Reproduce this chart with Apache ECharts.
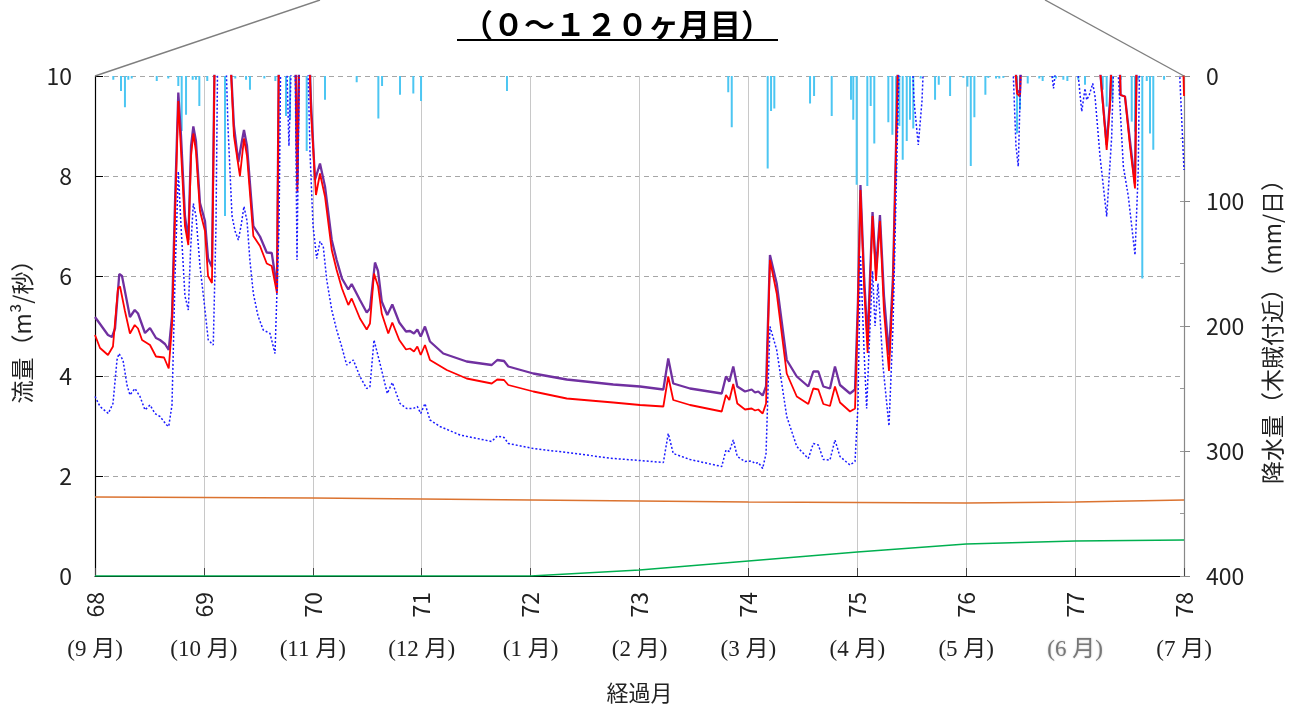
<!DOCTYPE html>
<html>
<head>
<meta charset="utf-8">
<script src="https://cdn.jsdelivr.net/npm/echarts@6/dist/echarts.min.js"></script>
<style>
  html, body { margin: 0; padding: 0; background: #ffffff; }
  #chart { width: 1300px; height: 711px; }
</style>
</head>
<body>
<div id="chart"></div>
<script>
// ---- elapsed-month axis ----
const monthMin = 68;
const monthMax = 78;
const monthNames = ['(9 月)', '(10 月)', '(11 月)', '(12 月)', '(1 月)', '(2 月)',
                    '(3 月)', '(4 月)', '(5 月)', '(6 月)', '(7 月)'];

// ---- discharge (m3/s), [elapsed month, value] ----
const flowPurple = [
  [68.000,5.18],[68.119,4.82],[68.156,4.78],[68.184,4.95],[68.223,6.04],[68.248,6.00],[68.321,5.18],
  [68.365,5.32],[68.395,5.25],[68.459,4.86],[68.505,4.96],[68.560,4.76],[68.597,4.72],[68.643,4.64],
  [68.677,4.52],[68.707,5.20],[68.735,7.50],[68.765,9.67],[68.790,8.80],[68.826,7.20],[68.857,6.72],
  [68.882,8.60],[68.903,8.99],[68.927,8.70],[68.964,7.46],[69.010,7.10],[69.038,6.35],[69.074,6.18],
  [69.102,11],[69.212,12],[69.240,10.5],[69.276,9.00],[69.316,8.28],[69.341,8.60],[69.368,8.92],
  [69.396,8.60],[69.454,7.00],[69.515,6.79],[69.577,6.47],[69.623,6.46],[69.671,5.76],[69.694,12],
  [69.837,11],[69.858,7.86],[69.878,11],[69.947,12],[69.983,9.50],[70.020,7.92],[70.066,8.25],
  [70.112,7.79],[70.174,6.72],[70.219,6.32],[70.268,5.95],[70.326,5.73],[70.357,5.84],[70.433,5.52],
  [70.495,5.27],[70.525,5.35],[70.571,6.27],[70.599,6.10],[70.633,5.49],[70.684,5.22],[70.730,5.43],
  [70.794,5.07],[70.856,4.89],[70.893,4.90],[70.929,4.85],[70.960,4.93],[70.991,4.79],[71.030,4.99],
  [71.076,4.69],[71.198,4.45],[71.413,4.29],[71.643,4.22],[71.694,4.32],[71.756,4.30],[71.795,4.19],
  [72.025,4.05],[72.332,3.93],[72.759,3.83],[73.005,3.79],[73.219,3.73],[73.264,4.35],[73.310,3.85],
  [73.464,3.75],[73.755,3.65],[73.794,3.99],[73.825,3.89],[73.861,4.19],[73.898,3.79],[73.969,3.69],
  [74.030,3.73],[74.061,3.67],[74.091,3.69],[74.131,3.61],[74.162,3.79],[74.198,6.42],[74.260,5.85],
  [74.352,4.32],[74.444,3.99],[74.550,3.79],[74.596,4.09],[74.642,4.09],[74.688,3.79],[74.749,3.75],
  [74.795,4.19],[74.841,3.82],[74.933,3.65],[74.979,3.73],[75.006,5.50],[75.029,7.82],[75.062,6.00],
  [75.095,4.70],[75.117,6.00],[75.140,7.28],[75.172,6.12],[75.208,7.22],[75.245,5.60],[75.291,4.42],
  [75.328,6.00],[75.365,9.50],[75.392,12],[76.402,12],[76.448,10.3],[76.467,9.72],[76.494,9.65],
  [76.512,11],[77.183,12],[77.222,10.3],[77.290,8.62],[77.320,9.50],[77.348,11],[77.394,12],
  [77.417,9.62],[77.458,9.59],[77.504,8.70],[77.550,7.85],[77.569,11],[77.963,12],[78.000,10.3]
];

const flowRed = [
  [68.000,4.82],[68.046,4.56],[68.119,4.42],[68.165,4.59],[68.193,5.30],[68.211,5.75],[68.230,5.79],
  [68.275,5.30],[68.321,4.85],[68.365,5.02],[68.395,4.95],[68.432,4.72],[68.505,4.62],[68.560,4.39],
  [68.634,4.37],[68.677,4.15],[68.707,5.00],[68.735,7.20],[68.765,9.50],[68.790,8.50],[68.826,7.00],
  [68.857,6.62],[68.882,8.40],[68.903,8.85],[68.927,8.50],[68.964,7.30],[69.010,6.90],[69.038,6.00],
  [69.074,5.86],[69.102,11],[69.212,12],[69.240,10.5],[69.276,8.80],[69.331,8.00],[69.368,8.75],
  [69.396,8.40],[69.454,6.80],[69.515,6.60],[69.577,6.25],[69.623,6.20],[69.671,5.66],[69.694,12],
  [69.837,11],[69.858,7.69],[69.878,11],[69.947,12],[69.983,9.30],[70.029,7.62],[70.066,8.05],
  [70.112,7.59],[70.174,6.52],[70.219,6.12],[70.268,5.75],[70.326,5.42],[70.357,5.55],[70.433,5.15],
  [70.495,4.93],[70.525,5.05],[70.562,6.05],[70.599,5.80],[70.633,5.25],[70.693,4.85],[70.730,5.07],
  [70.794,4.72],[70.856,4.53],[70.893,4.55],[70.929,4.49],[70.960,4.59],[70.991,4.42],[71.030,4.62],
  [71.076,4.32],[71.230,4.12],[71.413,3.95],[71.643,3.85],[71.694,3.93],[71.756,3.92],[71.795,3.82],
  [72.025,3.69],[72.332,3.55],[72.759,3.47],[73.005,3.42],[73.219,3.39],[73.264,3.99],[73.310,3.52],
  [73.464,3.42],[73.755,3.29],[73.794,3.62],[73.825,3.52],[73.861,3.84],[73.898,3.45],[73.969,3.33],
  [74.030,3.35],[74.061,3.31],[74.091,3.33],[74.131,3.25],[74.162,3.45],[74.198,6.32],[74.260,5.65],
  [74.352,4.05],[74.444,3.59],[74.550,3.44],[74.596,3.75],[74.642,3.73],[74.688,3.44],[74.749,3.40],
  [74.795,3.79],[74.841,3.47],[74.933,3.29],[74.979,3.35],[75.006,5.30],[75.029,7.72],[75.062,5.80],
  [75.095,4.46],[75.117,5.80],[75.140,7.20],[75.172,5.90],[75.208,7.10],[75.245,5.30],[75.291,4.10],
  [75.328,5.80],[75.365,9.40],[75.392,12],[76.402,12],[76.448,10.3],[76.467,9.65],[76.494,9.59],
  [76.512,11],[77.183,12],[77.222,10.3],[77.290,8.52],[77.320,9.40],[77.348,11],[77.394,12],
  [77.417,9.62],[77.458,9.59],[77.504,8.60],[77.550,7.75],[77.569,11],[77.972,12],[78.000,9.60]
];

const flowBlue = [
  [68.000,3.59],[68.046,3.39],[68.122,3.25],[68.165,3.45],[68.202,4.32],[68.220,4.45],[68.257,4.32],
  [68.294,3.82],[68.321,3.62],[68.367,3.75],[68.413,3.59],[68.459,3.32],[68.505,3.42],[68.551,3.25],
  [68.597,3.19],[68.658,3.02],[68.677,2.99],[68.707,3.42],[68.735,6.00],[68.765,8.09],[68.790,7.00],
  [68.826,5.60],[68.857,5.32],[68.877,6.50],[68.903,7.45],[68.927,7.20],[68.964,6.20],[69.001,5.50],
  [69.040,4.72],[69.086,4.62],[69.111,7.00],[69.129,11],[69.194,11],[69.221,9.00],[69.258,7.20],
  [69.286,6.90],[69.316,6.72],[69.341,7.00],[69.368,7.39],[69.396,7.10],[69.423,6.30],[69.454,5.65],
  [69.497,5.20],[69.545,4.92],[69.607,4.85],[69.653,4.45],[69.669,4.42],[69.690,7.00],[69.708,11],
  [69.754,10.8],[69.781,8.60],[69.809,10.8],[69.837,10.5],[69.855,6.32],[69.878,10.5],[69.947,11],
  [69.974,8.50],[70.002,7.00],[70.036,6.35],[70.066,6.69],[70.096,6.59],[70.128,5.92],[70.174,5.32],
  [70.219,4.92],[70.265,4.59],[70.311,4.22],[70.372,4.32],[70.433,3.99],[70.495,3.75],[70.525,3.79],
  [70.562,4.72],[70.617,4.25],[70.684,3.65],[70.730,3.87],[70.801,3.45],[70.862,3.35],[70.923,3.35],
  [70.960,3.39],[70.991,3.25],[71.030,3.45],[71.076,3.12],[71.168,2.99],[71.352,2.82],[71.643,2.69],
  [71.694,2.80],[71.756,2.77],[71.795,2.65],[72.025,2.55],[72.332,2.47],[72.759,2.35],[73.005,2.31],
  [73.219,2.27],[73.264,2.85],[73.310,2.45],[73.464,2.33],[73.755,2.19],[73.794,2.52],[73.825,2.49],
  [73.861,2.72],[73.898,2.39],[73.969,2.29],[74.030,2.30],[74.061,2.25],[74.091,2.27],[74.131,2.15],
  [74.162,2.45],[74.180,3.72],[74.198,4.99],[74.260,4.52],[74.352,3.19],[74.444,2.59],[74.550,2.35],
  [74.596,2.65],[74.642,2.62],[74.688,2.33],[74.749,2.32],[74.795,2.72],[74.841,2.39],[74.933,2.22],
  [74.979,2.29],[75.006,3.39],[75.029,6.42],[75.062,4.50],[75.086,3.35],[75.117,5.00],[75.140,6.10],
  [75.163,5.00],[75.190,5.85],[75.236,4.20],[75.291,3.00],[75.328,5.00],[75.365,8.50],[75.392,11],
  [75.493,11],[75.521,9.50],[75.560,8.62],[75.594,9.50],[75.622,11],[76.402,11],[76.433,10.0],
  [76.457,8.60],[76.478,8.19],[76.500,10.0],[76.522,11],[76.770,11],[76.788,10.0],[76.802,9.75],
  [76.815,10.0],[76.834,11],[77.008,11],[77.029,10.0],[77.061,9.29],[77.091,9.75],[77.107,9.52],
  [77.130,9.62],[77.162,9.85],[77.183,9.59],[77.229,8.39],[77.290,7.19],[77.336,8.79],[77.351,10.0],
  [77.376,11],[77.397,10.0],[77.443,8.19],[77.489,7.59],[77.550,6.42],[77.580,8.12],[77.590,10.0],
  [77.605,11],[77.945,11],[77.963,9.90],[78.000,8.12]
];

const flowOrange = [
  [68,1.58],[69,1.57],[70,1.56],[71,1.54],[72,1.52],[73,1.50],[74,1.48],[75,1.47],[76,1.46],[77,1.48],[78,1.52]
];

const flowGreen = [
  [68,0],[72,0],[73,0.12],[74,0.30],[75,0.48],[76,0.64],[77,0.70],[78,0.72]
];

// ---- daily rainfall (mm/day) ----
const rainfall = [
  [68.168,3],[68.239,12],[68.275,25],[68.306,3],[68.337,2],[68.567,4],[68.673,2],[68.765,8],
  [68.796,44],[68.836,31],[68.897,3],[68.927,3],[68.958,24],[69.031,4],[69.194,112],[69.288,2],
  [69.387,3],[69.423,11],[69.555,2],[69.656,4],[69.754,32],[69.791,35],[69.944,60],[70.112,19],
  [70.403,5],[70.602,34],[70.636,8],[70.801,15],[70.923,14],[70.994,20],[71.783,12],[73.815,13],
  [73.847,41],[74.177,74],[74.208,28],[74.238,26],[74.566,22],[74.603,16],[74.765,32],[74.942,19],
  [74.963,35],[74.994,87],[75.092,88],[75.123,24],[75.156,54],[75.285,37],[75.322,47],[75.356,78],
  [75.386,40],[75.417,67],[75.454,52],[75.484,35],[75.514,42],[75.582,2],[75.714,19],[75.748,7],
  [75.852,16],[75.974,1.5],[76.011,8.5],[76.042,72],[76.075,33],[76.176,15],[76.203,1.5],[76.274,2],
  [76.304,2],[76.341,1.5],[76.467,46],[76.494,27],[76.565,6],[76.671,2],[76.702,4],[76.800,1.5],
  [76.825,2],[76.892,3],[76.929,4],[77.029,3],[77.091,7],[77.254,11],[77.290,24.5],[77.342,20],
  [77.419,3],[77.520,36.5],[77.550,44.5],[77.580,3],[77.617,162],[77.658,4],[77.688,46],[77.718,59],
  [77.817,3]
];

const SANS = '"Noto Sans CJK JP", "Noto Sans", sans-serif';
const SERIF = '"Liberation Serif", "DejaVu Serif", "Noto Sans CJK JP", serif';

const chart = echarts.init(document.getElementById('chart'), null, { renderer: 'canvas' });

const lineSeries = (name, data, color, width, type, z) => ({
  name, type: 'line', data, xAxisIndex: 0, yAxisIndex: 0,
  symbol: 'none', smooth: false, clip: true, z,
  lineStyle: { color, width, type }
});

chart.setOption({
  animation: false,
  backgroundColor: '#ffffff',
  grid: { left: 95, right: 116, top: 76, bottom: 135, containLabel: false },
  xAxis: [
    {
      type: 'value', min: monthMin, max: monthMax, interval: 1,
      axisLine: { show: true, lineStyle: { color: '#000', width: 1.2 } },
      axisTick: { show: true, inside: true, length: 8, lineStyle: { color: '#444' } },
      splitLine: { show: true, lineStyle: { color: '#c8c8c8', width: 1 } },
      axisLabel: { rotate: 90, margin: 16, fontSize: 23, color: '#222', fontFamily: SANS }
    },
    {
      type: 'value', min: monthMin, max: monthMax, interval: 1,
      position: 'bottom', offset: 56,
      axisLine: { show: false }, axisTick: { show: false }, splitLine: { show: false },
      axisLabel: {
        margin: 6, fontSize: 23, color: '#222', fontFamily: SERIF,
        formatter: v => {
          const i = Math.round(v) - monthMin;
          const t = monthNames[i] || '';
          return i === 9 ? '{soft|' + t + '}' : t;
        },
        rich: {
          soft: { fontSize: 23, fontFamily: SERIF, color: '#777',
                  textShadowColor: 'rgba(0,0,0,0.25)', textShadowBlur: 2 }
        }
      }
    }
  ],
  yAxis: [
    {
      type: 'value', min: 0, max: 10, interval: 2, position: 'left',
      axisLine: { show: true, lineStyle: { color: '#000', width: 1.2 } },
      axisTick: { show: true, inside: true, length: 8, lineStyle: { color: '#000' } },
      splitLine: { show: true, lineStyle: { color: '#a6a6a6', type: [5, 4], width: 1 } },
      axisLabel: { margin: 23, fontSize: 23, color: '#222', fontFamily: SANS }
    },
    {
      type: 'value', min: 0, max: 400, interval: 100, position: 'right', inverse: true,
      axisLine: { show: true, lineStyle: { color: '#888', width: 1.2 } },
      axisTick: { show: true, inside: false, length: 6, lineStyle: { color: '#888' } },
      splitLine: { show: false },
      axisLabel: { margin: 22, fontSize: 23, color: '#222', fontFamily: SANS }
    },
    {
      // inner half-step ticks of the rainfall scale
      type: 'value', min: 0, max: 400, interval: 50, position: 'right', inverse: true,
      axisLine: { show: false },
      axisTick: { show: true, inside: true, length: 4, lineStyle: { color: '#999' } },
      splitLine: { show: false },
      axisLabel: { show: false }
    }
  ],
  series: [
    {
      name: '降水量', type: 'bar', data: rainfall, xAxisIndex: 0, yAxisIndex: 1,
      barWidth: 2, barGap: '-100%', clip: true, z: 1,
      itemStyle: { color: '#4cc6f2' }
    },
    lineSeries('基底流量', flowOrange, '#db7330', 1.6, 'solid', 2),
    lineSeries('地下水', flowGreen, '#00b050', 1.6, 'solid', 2),
    lineSeries('流量1', flowPurple, '#7030a0', 2.3, 'solid', 3),
    lineSeries('流量2', flowRed, '#ff0000', 1.8, 'solid', 4),
    lineSeries('流量3', flowBlue, '#1a1aff', 1.5, [2, 2], 5)
  ]
});

// decorations anchored to the plot corners
const tl = chart.convertToPixel({ xAxisIndex: 0, yAxisIndex: 0 }, [monthMin, 10]);
const tr = chart.convertToPixel({ xAxisIndex: 0, yAxisIndex: 0 }, [monthMax, 10]);
const bl = chart.convertToPixel({ xAxisIndex: 0, yAxisIndex: 0 }, [monthMin, 0]);
const midX = (tl[0] + tr[0]) / 2;
const midY = (tl[1] + bl[1]) / 2;

chart.setOption({
  graphic: [
    { type: 'line', silent: true, z: 10,
      shape: { x1: tl[0], y1: tl[1], x2: tl[0] + 225, y2: 0 },
      style: { stroke: '#7f7f7f', lineWidth: 1.4 } },
    { type: 'line', silent: true, z: 10,
      shape: { x1: tr[0], y1: tr[1], x2: tr[0] - 139, y2: 0 },
      style: { stroke: '#7f7f7f', lineWidth: 1.4 } },
    { type: 'text', z: 10, x: 617, y: 24,
      style: { text: '（０～１２０ヶ月目）', font: 'bold 31px ' + SANS, fill: '#000',
               textAlign: 'center', textVerticalAlign: 'middle' } },
    { type: 'line', z: 10, silent: true,
      shape: { x1: 457, y1: 40, x2: 778, y2: 40 },
      style: { stroke: '#000', lineWidth: 2 } },
    { type: 'text', z: 10, x: 22, y: midY, rotation: Math.PI / 2,
      style: { text: '流量（m³/秒）', font: '23px ' + SANS, fill: '#222',
               textAlign: 'center', textVerticalAlign: 'middle' } },
    { type: 'text', z: 10, x: 1272, y: midY, rotation: Math.PI / 2,
      style: { text: '降水量（木賊付近）（mm/日）', font: '23px ' + SANS, fill: '#222',
               textAlign: 'center', textVerticalAlign: 'middle' } },
    { type: 'text', z: 10, x: midX, y: 693,
      style: { text: '経過月', font: '22px ' + SANS, fill: '#222',
               textAlign: 'center', textVerticalAlign: 'middle' } }
  ]
});
</script>
</body>
</html>
